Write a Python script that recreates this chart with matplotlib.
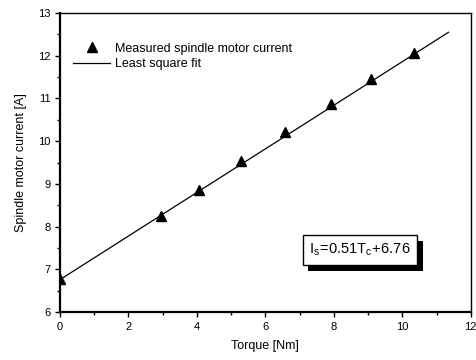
import matplotlib.pyplot as plt
import matplotlib.patheffects as pe
from matplotlib.ticker import MultipleLocator
import numpy as np

plt.rcParams['font.family'] = ['Liberation Sans', 'DejaVu Sans']

# measured points
torque = [0.0, 2.95, 4.05, 5.28, 6.57, 7.91, 9.08, 10.34]
current = [6.78, 8.25, 8.86, 9.53, 10.21, 10.87, 11.45, 12.06]

# least square fit coefficients
slope = 0.51
intercept = 6.76
fit_range = [0.0, 11.35]

fig = plt.figure(figsize=(4.76, 3.6), dpi=100)
ax = fig.add_axes([0.126, 0.133, 0.863, 0.831])

x_fit = np.array(fit_range)
ax.plot(x_fit, slope * x_fit + intercept, color='black', lw=0.9,
        label='Least square fit', zorder=2)
ax.plot(torque, current, ls='none', marker='^', ms=7, color='black',
        label='Measured spindle motor current', zorder=3)

ax.set_xlim(0, 12)
ax.set_ylim(6, 13)
ax.xaxis.set_major_locator(MultipleLocator(2))
ax.xaxis.set_minor_locator(MultipleLocator(1))
ax.yaxis.set_major_locator(MultipleLocator(1))
ax.yaxis.set_minor_locator(MultipleLocator(0.5))
ax.tick_params(which='major', direction='out', length=3.5, width=1, labelsize=8)
ax.tick_params(which='minor', direction='out', length=2, width=1)
for side in ['left', 'bottom']:
    ax.spines[side].set_linewidth(1.6)
for side in ['top', 'right']:
    ax.spines[side].set_linewidth(1.0)

ax.set_xlabel('Torque [Nm]', fontsize=9, labelpad=6)
ax.set_ylabel('Spindle motor current [A]', fontsize=9, labelpad=8)

handles, labels = ax.get_legend_handles_labels()
ax.legend(handles[::-1], labels[::-1], loc='upper left', frameon=False,
          fontsize=9, bbox_to_anchor=(0.01, 0.93), handlelength=3,
          handletextpad=0.4, labelspacing=0.3, borderaxespad=0.3)

eq = ax.text(0.607, 0.207, r'$\mathregular{I_s\!=\!0.51T_c\!+\!6.76}$',
             transform=ax.transAxes, fontsize=10.5, va='center', ha='left',
             bbox=dict(boxstyle='square,pad=0.45', fc='white', ec='black', lw=1))
eq.get_bbox_patch().set_path_effects([
    pe.SimplePatchShadow(offset=(4, -4), shadow_rgbFace='black', alpha=1),
    pe.Normal()])

fig.savefig('out.png', dpi=100)
